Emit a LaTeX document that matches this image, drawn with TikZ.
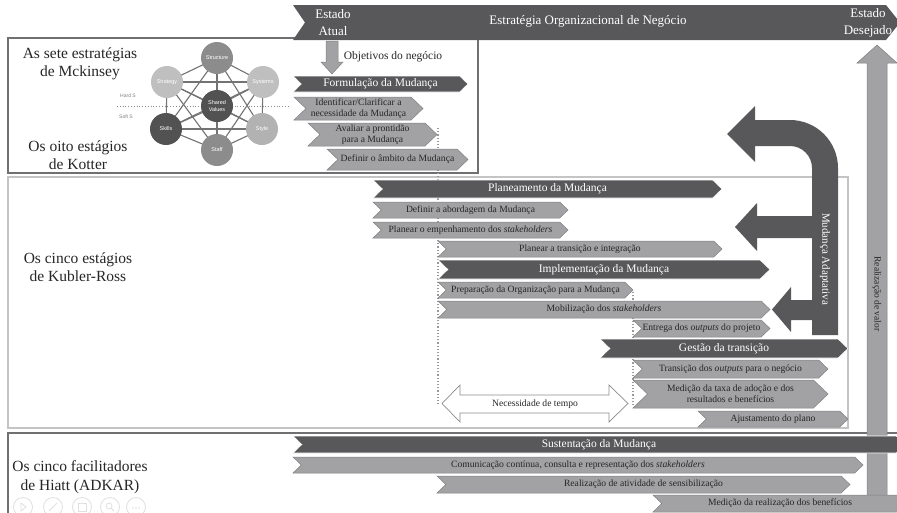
\documentclass[tikz,border=0pt]{standalone}
\usepackage{fontspec}
\setmainfont{Liberation Serif}
\newfontfamily\diagsans{Liberation Sans}
\definecolor{bandDark}{HTML}{58585A}
\definecolor{bandLight}{HTML}{A2A2A4}
\definecolor{edgeLight}{HTML}{808082}
\definecolor{frameDark}{HTML}{707072}
\definecolor{frameLight}{HTML}{C4C4C4}
\definecolor{inkText}{HTML}{262626}

% chevron band: #1 style prefix, #2 name, #3 x left, #4 x right, #5 y top, #6 y bottom, #7 label
\newcommand\chevshape[7]{%
  \pgfmathsetmacro\chN{0.52*(#6-#5)}%
  \pgfmathsetmacro\chM{(#5+#6)/2}%
  \pgfmathsetmacro\chC{(#3+#4)/2}%
  \path[#1] (#3,#5) -- ({#4-\chN},#5) -- (#4,\chM) -- ({#4-\chN},#6) -- (#3,#6) -- ({#3+\chN},\chM) -- cycle;
  \node[#1txt] (#2) at (\chC,\chM) {#7};
}

\begin{document}
\begin{tikzpicture}[x=1pt,y=-1pt,
  chevdark/.style={fill=bandDark, draw=white, line width=0.6pt},
  chevdarktxt/.style={text=white, font=\fontsize{11.5}{13}\selectfont, inner sep=0pt},
  chevlight/.style={fill=bandLight, draw=edgeLight, line width=0.5pt},
  chevlighttxt/.style={text=inkText, font=\fontsize{9.6}{11}\selectfont, align=center, inner sep=0pt},
  sidelabel/.style={text=inkText, font=\fontsize{15.5}{18.5}\selectfont, align=center, inner sep=0pt},
  ssnode/.style={circle, minimum size=32pt, inner sep=0pt, text=white, align=center, font=\diagsans\fontsize{5.5}{6.5}\selectfont},
  sslink/.style={draw=black!55, line width=1.1pt},
  guide/.style={draw=black!40, line width=1.2pt, dotted},
  faint/.style={draw=black!12, line width=0.8pt}
]
\useasboundingbox (0,0) rectangle (897,512);
\clip (0,0) rectangle (897,512);
\fill[white] (0,0) rectangle (897,512);

% ---------- section frames ----------
\draw[frameLight, line width=1.6pt] (8,177) rectangle (848,428);
\draw[frameDark, line width=2pt] (8,38) rectangle (478,173);
\draw[frameDark, line width=2pt] (8,514) -- (8,433) -- (899,433);

% ---------- top banner ----------
\fill[bandDark] (293,5) -- (886,5) -- (900,22.5) -- (886,40) -- (293,40) -- (305,22.5) -- cycle;
\node[text=white, align=center, font=\fontsize{13}{17}\selectfont, inner sep=0pt] (actual) at (333,23) {Estado\\Atual};
\node[text=white, font=\fontsize{13}{15}\selectfont, inner sep=0pt] (strategy) at (588,21) {Estratégia Organizacional de Negócio};
\node[text=white, align=center, font=\fontsize{13}{17}\selectfont, inner sep=0pt] (desired) at (868,23) {Estado\\Desejado};

% ---------- left labels ----------
\node[sidelabel] (mck) at (80,64) {As sete estratégias\\de Mckinsey};
\node[sidelabel] (kot) at (78,155) {Os oito estágios\\de Kotter};
\node[sidelabel] (kub) at (78,267) {Os cinco estágios\\de Kubler-Ross};
\node[sidelabel] (hia) at (80,477) {Os cinco facilitadores\\de Hiatt (ADKAR)};

% ---------- McKinsey 7S ----------
\coordinate (cStr) at (217,58);
\coordinate (cSty) at (167,82);
\coordinate (cSys) at (263,82);
\coordinate (cSv) at (217,106);
\coordinate (cSk) at (166,129);
\coordinate (cSt) at (262,129);
\coordinate (cSf) at (217,150);
\foreach \a/\b in {cStr/cSty,cStr/cSys,cStr/cSv,cStr/cSk,cStr/cSt,cStr/cSf,
                   cSty/cSys,cSty/cSv,cSty/cSk,cSty/cSt,cSty/cSf,
                   cSys/cSv,cSys/cSk,cSys/cSt,cSys/cSf,
                   cSv/cSk,cSv/cSt,cSv/cSf,
                   cSk/cSt,cSk/cSf,cSt/cSf}
  \draw[sslink] (\a) -- (\b);
\draw[draw=black!45, line width=0.8pt, dotted] (117,106) -- (289,106);
\node[text=black!50, font=\diagsans\fontsize{5}{6}\selectfont] (hard) at (128,96) {Hard S};
\node[text=black!50, font=\diagsans\fontsize{5}{6}\selectfont] (soft) at (126,117) {Soft S};
\node[ssnode, fill=black!45] (structure) at (cStr) {Structure};
\node[ssnode, fill=black!25] (strat) at (cSty) {Strategy};
\node[ssnode, fill=black!25] (systems) at (cSys) {Systems};
\node[ssnode, fill=black!68] (shared) at (cSv) {Shared\\Values};
\node[ssnode, fill=black!68] (skills) at (cSk) {Skills};
\node[ssnode, fill=black!30] (style) at (cSt) {Style};
\node[ssnode, fill=black!45] (staff) at (cSf) {Staff};

% ---------- business goals arrow ----------
\path[fill=bandLight, draw=edgeLight, line width=0.5pt]
  (326,41) -- (338,41) -- (338,62) -- (343,62) -- (332,74) -- (321,62) -- (326,62) -- cycle;
\node[text=inkText, font=\fontsize{11.5}{13}\selectfont, inner sep=0pt] (goals) at (393,57) {Objetivos do negócio};

% ---------- dotted time guides ----------
\draw[guide] (438,128) -- (438,406);
\draw[guide] (633,292) -- (633,406);

% ---------- value realisation arrow ----------
\path[fill=bandLight, draw=edgeLight, line width=0.5pt]
  (867,497) -- (867,63) -- (857,63) -- (877,45) -- (897,63) -- (887,63) -- (887,497) -- cycle;
\node[rotate=-90, text=inkText, font=\fontsize{9.5}{11}\selectfont, inner sep=0pt] (value) at (877,294) {Realização de valor};

% ---------- change formulation ----------
\chevshape{chevdark}{form}{293}{468}{76}{92}{Formulação da Mudança}
\chevshape{chevlight}{need}{294}{423}{97}{120}{Identificar/Clarificar a\\necessidade da Mudança}
\chevshape{chevlight}{ready}{308}{437}{123}{146}{Avaliar a prontidão\\para a Mudança}
\chevshape{chevlight}{scope}{327}{468}{149}{170}{Definir o âmbito da Mudança}

% ---------- change planning ----------
\chevshape{chevdark}{plan}{373}{722}{180}{198}{Planeamento da Mudança}
\chevshape{chevlight}{approach}{373}{568}{202}{218}{Definir a abordagem da Mudança}
\chevshape{chevlight}{engage}{373}{568}{222}{238}{Planear o empenhamento dos \textit{stakeholders}}
\chevshape{chevlight}{integr}{438}{722}{241}{257}{Planear a transição e integração}

% ---------- implementation ----------
\chevshape{chevdark}{impl}{438}{770}{260}{279}{Implementação da Mudança}
\chevshape{chevlight}{prep}{438}{633}{282}{298}{Preparação da Organização para a Mudança}
\chevshape{chevlight}{mobil}{438}{770}{301}{318}{Mobilização dos \textit{stakeholders}}
\chevshape{chevlight}{deliver}{633}{770}{320}{337}{Entrega dos \textit{outputs} do projeto}

% ---------- transition management ----------
\chevshape{chevdark}{trans}{600}{848}{339}{358}{Gestão da transição}
\chevshape{chevlight}{handover}{633}{828}{360}{378}{Transição dos \textit{outputs} para o negócio}
\chevshape{chevlight}{measure}{633}{828}{380}{408}{Medição da taxa de adoção e dos\\resultados e benefícios}
\chevshape{chevlight}{adjust}{698}{848}{411}{427}{Ajustamento do plano}

% ---------- time needed ----------
\path[fill=white, draw=black!45, line width=0.7pt]
  (442,403.5) -- (460,385) -- (460,395) -- (609,395) -- (609,385) -- (628,403.5)
  -- (609,422) -- (609,413) -- (460,413) -- (460,422) -- cycle;
\node[text=inkText, font=\fontsize{9.6}{11}\selectfont, inner sep=0pt] (time) at (535,404) {Necessidade de tempo};

% ---------- adaptive change ----------
\fill[bandDark]
  (812,335) -- (812,168) .. controls (812,155.85) and (802.15,146) .. (790,146)
  -- (755,146) -- (755,162) -- (727,134) -- (755,106) -- (755,120) -- (790,120)
  .. controls (816.5,120) and (838,141.5) .. (838,168) -- (838,335) -- cycle;
\fill[bandDark] (812,216) -- (757,216) -- (757,203) -- (735,227) -- (757,251) -- (757,238) -- (812,238) -- cycle;
\fill[bandDark] (812,300) -- (791,300) -- (791,287) -- (772,309.5) -- (791,332) -- (791,320) -- (812,320) -- cycle;
\node[rotate=-90, text=white, font=\fontsize{11}{13}\selectfont, inner sep=0pt] (adaptive) at (825,259) {Mudança Adaptativa};

% ---------- sustaining the change ----------
\chevshape{chevdark}{sustain}{293}{905}{436}{453}{Sustentação da Mudança}
\chevshape{chevlight}{comm}{293}{863}{457}{473}{Comunicação contínua, consulta e representação dos \textit{stakeholders}}
\chevshape{chevlight}{aware}{437}{850}{476}{493}{Realização de atividade de sensibilização}
\chevshape{chevlight}{benefit}{653}{907}{495}{512}{Medição da realização dos benefícios}

% ---------- player controls ----------
\foreach \cx in {23,53,82,110,136}
  \draw[faint] (\cx,507) circle (9.5);
\draw[faint] (21,503) -- (26,507) -- (21,511) -- cycle;
\draw[faint] (49,511) -- (57,503);
\draw[faint] (78,503) rectangle (86,511);
\draw[faint] (109,506) circle (3) (111,508) -- (114,511);
\foreach \dx in {-3,0,3} \fill[black!12] (136+\dx,508) circle (0.9);
\end{tikzpicture}
\end{document}
